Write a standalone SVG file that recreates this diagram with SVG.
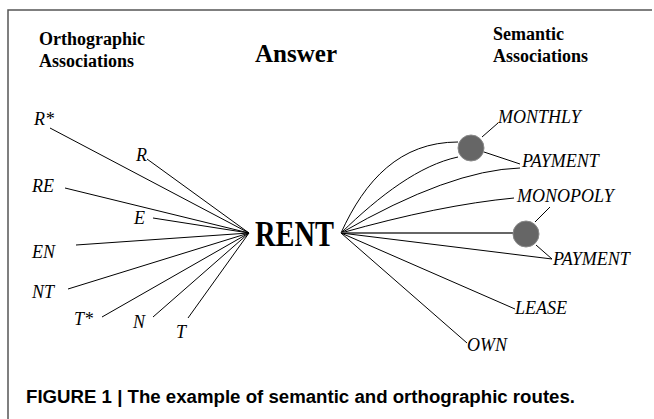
<svg xmlns="http://www.w3.org/2000/svg" width="654" height="419" viewBox="0 0 654 419">
<style>
.frame{fill:none;stroke:#555;stroke-width:1.5}
.ln{fill:none;stroke:#000;stroke-width:1}
.hd{font-family:"Liberation Serif","Times New Roman",serif;font-weight:bold;font-size:18px;fill:#000}
.lb{font-family:"Liberation Serif","Times New Roman",serif;font-style:italic;font-size:18px;fill:#000}
.hub{fill:#666;stroke:#888;stroke-width:1}
</style>
<rect width="654" height="419" fill="#fff"/>
<path class="frame" d="M8,419 V10 H652"/>
<g id="headings">
<text class="hd" x="39" y="45">Orthographic</text>
<text class="hd" x="39" y="67">Associations</text>
<text class="hd" x="255" y="62" style="font-size:25px" textLength="82" lengthAdjust="spacingAndGlyphs">Answer</text>
<text class="hd" x="493" y="40">Semantic</text>
<text class="hd" x="493" y="62">Associations</text>
</g>
<g id="connectors">
<line class="ln" x1="249" y1="233" x2="50" y2="128"/>
<line class="ln" x1="249" y1="233" x2="147" y2="159"/>
<line class="ln" x1="249" y1="233" x2="65" y2="188"/>
<line class="ln" x1="249" y1="233" x2="153" y2="218"/>
<line class="ln" x1="249" y1="233" x2="76" y2="245"/>
<line class="ln" x1="249" y1="233" x2="68" y2="289"/>
<line class="ln" x1="249" y1="233" x2="102" y2="317"/>
<line class="ln" x1="249" y1="233" x2="153" y2="317"/>
<line class="ln" x1="249" y1="233" x2="188" y2="318"/>
<path class="ln" d="M341,233 C365,180 400,142 458,142"/>
<path class="ln" d="M341,233 C380,195 420,165 458,157"/>
<line class="ln" x1="482" y1="137" x2="498" y2="123"/>
<line class="ln" x1="484" y1="152" x2="520" y2="164"/>
<path class="ln" d="M341,233 Q450,170 520,168"/>
<path class="ln" d="M341,233 Q440,205 514,198"/>
<line x1="341" y1="233" x2="514" y2="233" stroke="#666" stroke-width="2"/>
<line class="ln" x1="535" y1="222" x2="550" y2="207"/>
<line class="ln" x1="341" y1="233" x2="552" y2="259"/>
<line class="ln" x1="536" y1="245" x2="552" y2="259"/>
<line class="ln" x1="341" y1="233" x2="515" y2="309"/>
<line class="ln" x1="341" y1="233" x2="467" y2="343"/>
</g>
<g id="answer">
<text x="255" y="246" font-family="Liberation Serif, Times New Roman, serif" font-weight="bold" font-size="35" textLength="79" lengthAdjust="spacingAndGlyphs">RENT</text>
</g>
<g id="ortho">
<text class="lb" x="34" y="125">R*</text>
<text class="lb" x="136" y="161">R</text>
<text class="lb" x="32" y="192">RE</text>
<text class="lb" x="134" y="224">E</text>
<text class="lb" x="32" y="258">EN</text>
<text class="lb" x="32" y="298">NT</text>
<text class="lb" x="74" y="325">T*</text>
<text class="lb" x="133" y="328">N</text>
<text class="lb" x="176" y="338">T</text>
</g>
<g id="hub1"><circle class="hub" cx="471" cy="148" r="13"/></g>
<g id="hub2"><circle class="hub" cx="526" cy="234" r="13"/></g>
<g id="semantic">
<text class="lb" x="498" y="123">MONTHLY</text>
<text class="lb" x="522" y="167">PAYMENT</text>
<text class="lb" x="517" y="202">MONOPOLY</text>
<text class="lb" x="553" y="265">PAYMENT</text>
<text class="lb" x="515" y="314">LEASE</text>
<text class="lb" x="467" y="351">OWN</text>
</g>
<g id="caption">
<text x="26" y="403" font-family="Liberation Sans, Arial, sans-serif" font-weight="bold" font-size="18" textLength="549" lengthAdjust="spacingAndGlyphs">FIGURE 1 | The example of semantic and orthographic routes.</text>
</g>
</svg>
